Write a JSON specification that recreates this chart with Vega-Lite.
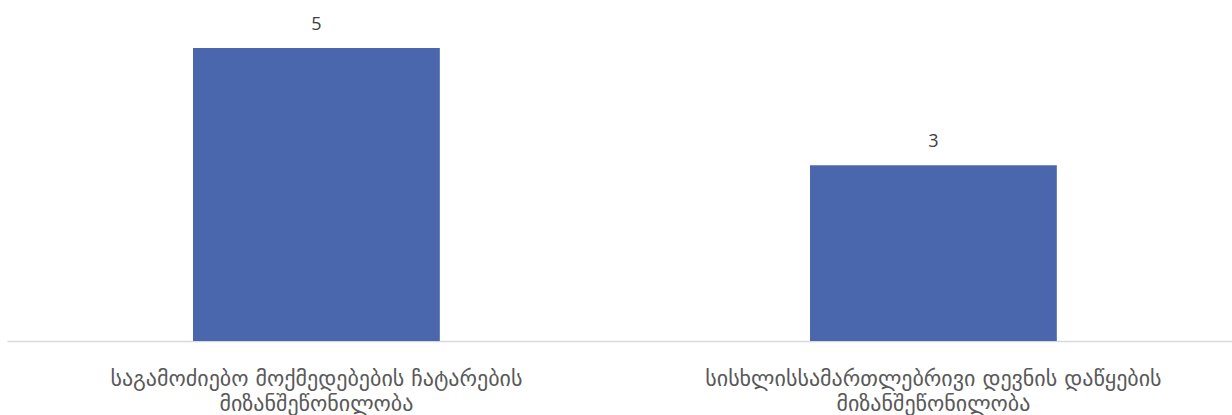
{
  "$schema": "https://vega.github.io/schema/vega-lite/v6.json",
  "width": 1225,
  "height": 341,
  "autosize": {"type": "none"},
  "padding": {"left": 7, "top": 0, "right": 0, "bottom": 74},
  "background": "white",
  "data": {"values": [
    {"category": "საგამოძიებო მოქმედებების ჩატარების მიზანშეწონილობა", "value": 5},
    {"category": "სისხლისსამართლებრივი დევნის დაწყების მიზანშეწონილობა", "value": 3}
  ]},
  "config": {"view": {"stroke": null}, "font": "DejaVu Sans"},
  "encoding": {
    "x": {
      "field": "category", "type": "nominal", "sort": null,
      "scale": {"paddingInner": 0.6, "paddingOuter": 0.2927, "align": 0.515},
      "axis": {
        "title": null, "labelAngle": 0, "ticks": false, "domainColor": "#d9d9d9", "domainWidth": 1.5,
        "labelFontSize": 22, "labelColor": "#595959", "labelPadding": 37, "labelLineHeight": 25,
        "labelLimit": 0, "labelBaseline": "middle", "labelOverlap": false, "labelBound": false, "labelFlush": false,
        "labelFont": "DejaVu Sans",
        "labelExpr": "[slice(datum.label, 0, lastindexof(datum.label, ' ')), slice(datum.label, lastindexof(datum.label, ' ') + 1)]"
      }
    },
    "y": {"field": "value", "type": "quantitative", "scale": {"domain": [0, 5.82], "nice": false}, "axis": null}
  },
  "layer": [
    {"mark": {"type": "bar", "color": "#4a66ac"}},
    {"mark": {"type": "text", "dy": -18, "baseline": "alphabetic", "fontSize": 18, "font": "Open Sans", "color": "#404040"}, "encoding": {"text": {"field": "value"}}}
  ]
}
